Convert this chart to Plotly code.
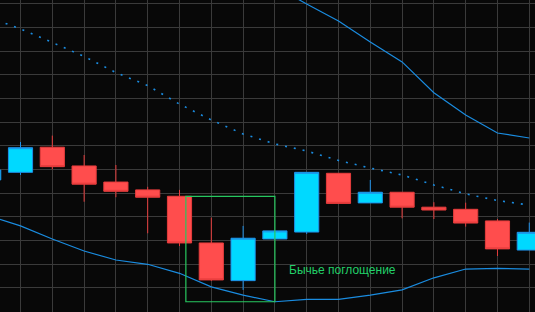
import plotly.graph_objects as go

# ---- data (candle index, OHLC in price units) ----
idx = list(range(-1, 17))
opens  = [155.6, 158.8, 169.4, 161.5, 154.7, 151.4, 148.7, 129.0, 113.1, 130.7, 133.6, 158.4, 145.9, 150.4, 144.1, 143.2, 138.3, 126.0]
highs  = [159.8, 171.6, 174.3, 166.1, 161.9, 152.7, 151.4, 139.7, 136.2, 134.1, 158.8, 158.4, 155.6, 150.4, 146.2, 146.0, 139.1, 137.6]
lows   = [155.6, 157.7, 160.1, 146.4, 148.3, 133.1, 127.7, 113.0, 109.2, 130.7, 132.8, 145.7, 145.9, 139.4, 139.1, 135.9, 123.5, 126.0]
closes = [159.8, 169.2, 161.2, 153.8, 150.8, 148.3, 129.0, 113.4, 131.0, 134.1, 158.8, 145.7, 150.4, 144.1, 142.9, 137.4, 126.5, 133.5]

# Bollinger bands
bb_upper  = [308.2, 302.4, 296.5, 289.8, 280.0, 270.8, 259.0, 251.3, 243.0, 237.4, 229.8, 222.7, 213.8, 205.4, 192.4, 183.0, 175.4, 173.3]
bb_middle = [224.3, 219.3, 213.6, 207.7, 200.9, 195.4, 187.6, 180.9, 175.0, 170.8, 167.8, 163.8, 160.6, 157.7, 153.5, 149.7, 146.9, 145.0]
bb_lower  = [140.4, 136.2, 130.7, 125.6, 121.8, 120.0, 116.2, 110.5, 107.0, 104.2, 105.2, 105.2, 107.0, 109.2, 114.3, 118.0, 118.3, 118.0]

pattern_label = "Бычье поглощение"
pattern_first, pattern_last = 6, 8   # candles of the pattern

BAND = "#1a8ce0"
GRID = "#3a3a3a"
BG = "#080808"

fig = go.Figure()

fig.add_trace(go.Scatter(x=idx, y=bb_upper, mode="lines",
                         line=dict(color=BAND, width=1.2), hoverinfo="skip"))
fig.add_trace(go.Scatter(x=idx, y=bb_lower, mode="lines",
                         line=dict(color=BAND, width=1.2), hoverinfo="skip"))
fig.add_trace(go.Scatter(x=idx, y=bb_middle, mode="lines",
                         line=dict(color=BAND, width=1.6, dash="2px,7px"), hoverinfo="skip"))

fig.add_trace(go.Candlestick(
    x=idx, open=opens, high=highs, low=lows, close=closes,
    increasing=dict(line=dict(color="#1e90e8", width=1), fillcolor="#00d9ff"),
    decreasing=dict(line=dict(color="#e63c3c", width=1), fillcolor="#ff4d4d"),
    whiskerwidth=0,
))

# pattern box derived from data
fig.add_shape(type="rect", xref="x", yref="y",
              x0=pattern_first - 0.8, x1=pattern_last,
              y0=bb_lower[idx.index(pattern_last)], y1=opens[idx.index(pattern_first - 1)],
              line=dict(color="#27c75f", width=1.2), fillcolor="rgba(0,0,0,0)")

fig.add_annotation(x=pattern_last + 0.39, y=117.6, xref="x", yref="y",
                   text=pattern_label, showarrow=False, xanchor="left", yanchor="middle",
                   font=dict(family="Liberation Sans, Arial, sans-serif", size=12, color="#22d068"))

fig.update_layout(
    width=535, height=312,
    margin=dict(l=0, r=0, t=0, b=0),
    paper_bgcolor=BG, plot_bgcolor=BG,
    showlegend=False,
    boxgap=0.24, boxgroupgap=0,
    xaxis=dict(range=[-0.645, 16.18], dtick=1, tick0=0, showticklabels=False,
               showgrid=True, gridcolor=GRID, gridwidth=1, zeroline=False,
               rangeslider=dict(visible=False), showline=False, fixedrange=True),
    yaxis=dict(range=[99.87, 231.52], dtick=10, tick0=100, showticklabels=False,
               showgrid=True, gridcolor=GRID, gridwidth=1, zeroline=False,
               showline=False, fixedrange=True),
)

fig.write_html("out.html", config={"displayModeBar": False})
